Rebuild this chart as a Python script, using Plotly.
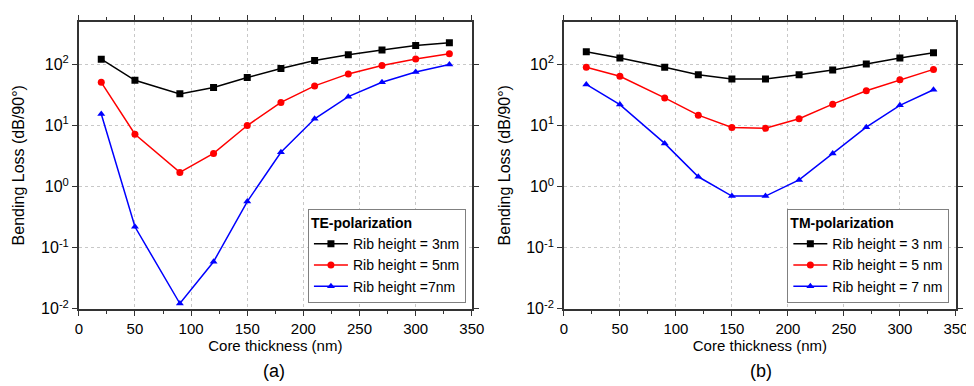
import plotly.graph_objects as go

core_thickness = [20, 50, 90, 120, 150, 180, 210, 240, 270, 300, 330]

te_rib3 = [122, 55, 33, 42, 61, 86, 116, 144, 173, 204, 227]
te_rib5 = [51, 7.2, 1.71, 3.5, 10, 23.9, 44.6, 70, 96, 123, 150]
te_rib7 = [15.4, 0.22, 0.0122, 0.059, 0.57, 3.66, 12.9, 29.7, 51, 75, 100]

tm_rib3 = [161, 128, 90, 68, 58, 58, 68, 81, 102, 128, 155]
tm_rib5 = [90, 64, 28.3, 14.8, 9.3, 9.0, 12.9, 22.4, 37, 56, 83]
tm_rib7 = [47, 22, 5.1, 1.45, 0.70, 0.70, 1.29, 3.5, 9.4, 21.4, 38.5]

te_names = ["Rib height = 3nm", "Rib height = 5nm", "Rib height =7nm"]
tm_names = ["Rib height = 3 nm", "Rib height = 5 nm", "Rib height = 7 nm"]

colors = ["#000000", "#ff0000", "#0000ff"]
symbols = ["square", "circle", "triangle-up"]

y_tickvals = [0.01, 0.1, 1, 10, 100]
y_ticktext = ["10<sup>-2</sup>", "10<sup>-1</sup>", "10<sup>0</sup>", "10<sup>1</sup>", "10<sup>2</sup>"]
x_tickvals = [0, 50, 100, 150, 200, 250, 300, 350]

FONT = "Liberation Sans, Arial, sans-serif"
AXCOL = "#333333"

fig = go.Figure()

for ys, name, c, s in zip([te_rib3, te_rib5, te_rib7], te_names, colors, symbols):
    fig.add_trace(go.Scatter(x=core_thickness, y=ys, name=name, mode="lines+markers",
                             line=dict(color=c, width=1.5),
                             marker=dict(symbol=s, size=7, color=c),
                             xaxis="x", yaxis="y", legend="legend"))
for ys, name, c, s in zip([tm_rib3, tm_rib5, tm_rib7], tm_names, colors, symbols):
    fig.add_trace(go.Scatter(x=core_thickness, y=ys, name=name, mode="lines+markers",
                             line=dict(color=c, width=1.5),
                             marker=dict(symbol=s, size=7, color=c),
                             xaxis="x2", yaxis="y2", legend="legend2"))

xr = [0, 350]
yr = [-2, 2.7]

dom_y = [0.2021, 0.9637]
dom_x1 = [0.0698, 0.4805]
dom_x2 = [0.5767, 0.9863]

def xaxis(domain, anchor):
    return dict(domain=domain, anchor=anchor, range=xr, tickvals=x_tickvals,
                ticks="outside", ticklen=5, tickwidth=1.2, tickcolor=AXCOL,
                minor=dict(ticks="outside", dtick=25, tick0=0, ticklen=3, tickcolor=AXCOL, showgrid=False),
                showline=True, linecolor=AXCOL, linewidth=1.5, mirror="ticks",
                showgrid=True, gridcolor="#c8c8c8", griddash="dot", gridwidth=1,
                zeroline=False,
                title=dict(text="Core thickness (nm)", font=dict(size=15, family=FONT, color="black"), standoff=4),
                tickfont=dict(size=15, family=FONT, color="black"))

def yaxis(domain, anchor):
    return dict(domain=domain, anchor=anchor, type="log", range=yr,
                tickvals=y_tickvals, ticktext=y_ticktext,
                ticks="outside", ticklen=5, tickwidth=1.2, tickcolor=AXCOL,
                showline=True, linecolor=AXCOL, linewidth=1.5, mirror="ticks",
                showgrid=True, gridcolor="#c8c8c8", griddash="dot", gridwidth=1,
                zeroline=False,
                title=dict(text="Bending Loss (dB/90°)", font=dict(size=16, family=FONT, color="black"), standoff=12),
                tickfont=dict(size=16, family=FONT, color="black"))

def legend(xr_paper, title):
    return dict(x=xr_paper, y=0.2176, xanchor="right", yanchor="bottom",
                bgcolor="white", bordercolor="#808080", borderwidth=1,
                font=dict(size=14, family=FONT, color="black"),
                title=dict(text="<b>" + title + "</b>", font=dict(size=14, family=FONT, color="black")),
                tracegroupgap=0, itemwidth=34)

fig.update_layout(
    width=974, height=386,
    margin=dict(l=0, r=0, t=0, b=0),
    paper_bgcolor="white", plot_bgcolor="white",
    font=dict(family=FONT, color="black"),
    xaxis=xaxis(dom_x1, "y"),
    yaxis=yaxis(dom_y, "x"),
    xaxis2=xaxis(dom_x2, "y2"),
    yaxis2=yaxis(dom_y, "x2"),
    legend=legend(462 / 974, "TE-polarization"),
    legend2=legend(954 / 974, "TM-polarization"),
    annotations=[
        dict(text="(a)", x=267 / 974, y=1 - 372 / 386, xref="paper", yref="paper",
             xanchor="center", yanchor="middle",
             showarrow=False, font=dict(size=18, family=FONT, color="black")),
        dict(text="(b)", x=762 / 974, y=1 - 372 / 386, xref="paper", yref="paper",
             xanchor="center", yanchor="middle",
             showarrow=False, font=dict(size=18, family=FONT, color="black")),
    ],
)

fig.write_html("out.html")
